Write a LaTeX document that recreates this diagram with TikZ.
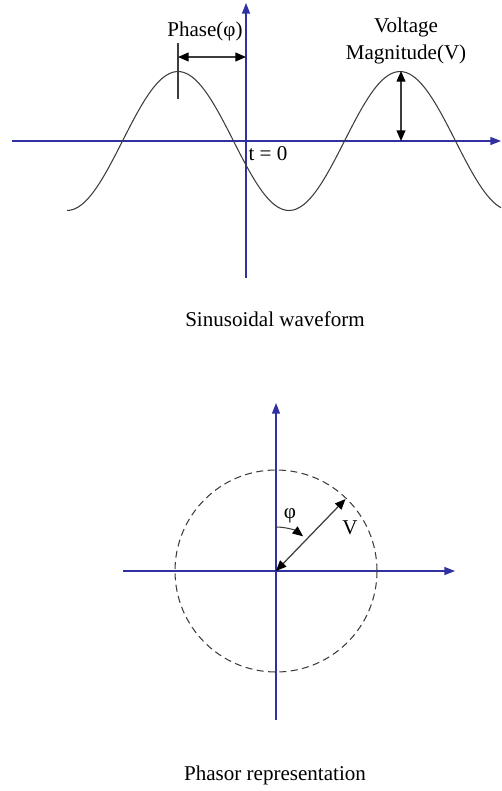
\documentclass[tikz,border=0pt]{standalone}
\usepackage{fontspec}
\setmainfont{Liberation Serif}
\usetikzlibrary{arrows.meta,calc}
\definecolor{axisblue}{RGB}{48,48,160}
\definecolor{curvegrey}{RGB}{60,60,60}
\begin{document}
\begin{tikzpicture}[x=0.57pt, y=-0.57pt, font=\fontsize{12}{14}\selectfont,
  axis/.style={draw=axisblue, line width=0.8pt, -{Triangle[length=6pt, width=4.5pt]}},
  wave/.style={draw=curvegrey, line width=0.6pt},
  meas/.style={draw=curvegrey, line width=0.7pt, {Triangle[length=6pt, width=5pt, color=black]}-{Triangle[length=6pt, width=5pt, color=black]}},
  lbl/.style={inner sep=1pt, align=center}]
\useasboundingbox (0,0) rectangle (501,791);
% sinusoidal waveform
\coordinate (w0) at (246,141);
\coordinate (wxl) at (12,141);
\coordinate (wxr) at (501,141);
\coordinate (wyb) at (246,278);
\coordinate (wyt) at (246,3);
\draw[axis] (wxl) -- (wxr);
\draw[axis] (wyb) -- (wyt);
\draw[wave] plot[domain=67:501, samples=120, smooth] (\x, {141-69.5*cos((\x-178)/222*360)});
\coordinate (pk1) at (178,71);
\coordinate (tickt) at (178,43);
\coordinate (tickb) at (178,99);
\draw[wave] (tickt) -- (tickb);
\coordinate (ph0) at (178,57);
\coordinate (ph1) at (246,57);
\draw[meas] (ph0) -- (ph1);
\node[lbl] (phase) at (205,31) {Phase(φ)};
\coordinate (pk2) at (401,71);
\coordinate (pk2base) at (401,141);
\draw[meas] (pk2) -- (pk2base);
\node[lbl] (volt) at (406,41) {Voltage\\[1pt]Magnitude(V)};
\node[lbl] (tzero) at (268,154) {t = 0};
\node[lbl] (wcap) at (275,319) {Sinusoidal waveform};
% phasor representation
\coordinate (c0) at (276,571);
\coordinate (pxl) at (123,571);
\coordinate (pxr) at (455,571);
\coordinate (pyb) at (276,720);
\coordinate (pyt) at (276,403);
\draw[axis] (pxl) -- (pxr);
\draw[axis] (pyb) -- (pyt);
\draw[wave, dash pattern=on 4pt off 2.5pt] (c0) circle[radius=101];
\coordinate (vtip) at ($(c0)+(-46:100)$);
\draw[meas] (c0) -- (vtip);
\draw[wave, -{Triangle[length=6pt, width=5pt, color=black]}] (276,527) arc[start angle=-90, end angle=-52, radius=44];
\node[lbl] (phi) at (290,516) {φ};
\node[lbl] (vmag) at (350,528) {V};
\node[lbl] (pcap) at (275,775) {Phasor representation};
\end{tikzpicture}
\end{document}
